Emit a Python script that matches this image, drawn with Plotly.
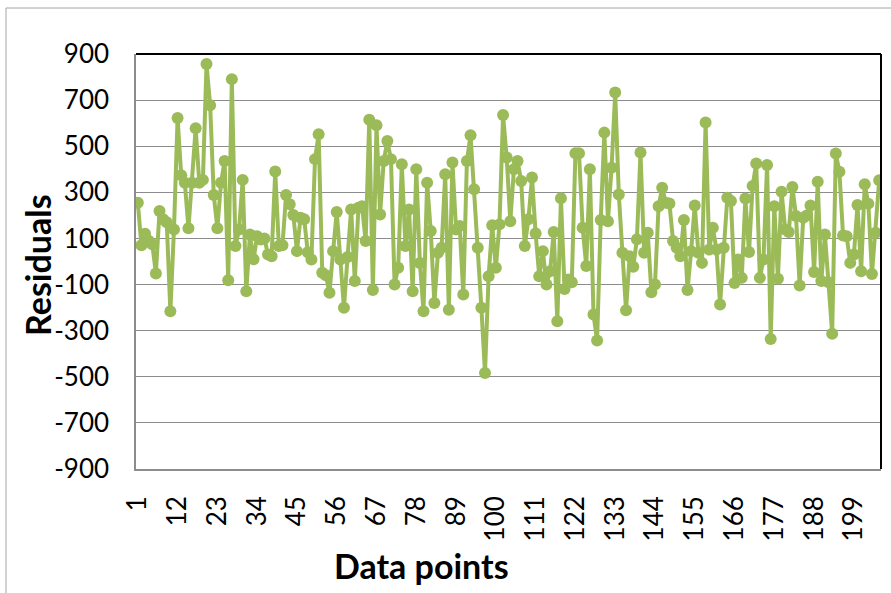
import plotly.graph_objects as go

residuals = [
    255, 70, 120, 90, 75, -52, 219, 183, 170, -216,
    139, 622, 374, 342, 144, 342, 578, 342, 354, 857,
    678, 288, 144, 342, 436, -81, 791, 67, 139, 354,
    -129, 117, 10, 110, 95, 100, 30, 23, 390, 67,
    70, 288, 248, 202, 45, 190, 183, 40, 9, 444,
    552, -49, -60, -136, 45, 215, 9, -201, 20, 226,
    -85, 233, 240, 89, 615, -124, 591, 204, 436, 523,
    444, -100, -27, 422, 67, 226, -129, 400, -7, -216,
    342, 132, -180, 38, 60, 378, -209, 429, 139, 154,
    -143, 436, 548, 313, 60, -201, -484, -64, 157, -27,
    161, 635, 451, 175, 400, 436, 349, 67, 183, 364,
    122, -64, 45, -100, -42, 128, -259, 274, -119, -78,
    -90, 470, 470, 146, -20, 400, -230, -343, 180, 559,
    175, 407, 733, 291, 38, -211, 23, -23, 96, 473,
    38, 125, -133, -100, 240, 320, 255, 252, 89, 60,
    23, 180, -124, 45, 243, 38, -6, 603, 52, 146,
    52, -187, 60, 277, 262, -93, 9, -71, 273, 41,
    328, 425, -71, 9, 419, -336, 240, -75, 303, 139,
    128, 323, 197, -104, 190, 200, 243, -46, 346, -85,
    117, -90, -313, 468, 389, 113, 110, -6, 30, 245,
    -42, 335, 251, -54, 125, 352,
]
points = list(range(1, len(residuals) + 1))
x_tick_vals = list(range(1, len(residuals) + 1, 11))
x_tick_text = [str(v) for v in x_tick_vals]
y_tick_vals = list(range(-900, 901, 200))
y_tick_text = [str(v) for v in y_tick_vals]

GREEN = "#9BBB59"
FONT = "Lato, 'Open Sans', sans-serif"

W, H = 891, 593
L, R, T, B = 136, 881, 54, 469
pw, ph = R - L, B - T

def px(xp):
    return (xp - L) / pw

def py(yp):
    return (B - yp) / ph

fig = go.Figure()
fig.add_trace(go.Scatter(
    x=points, y=residuals, mode="lines+markers",
    line=dict(color=GREEN, width=4),
    marker=dict(color=GREEN, size=12, line=dict(width=0)),
    showlegend=False,
))

fig.update_layout(
    width=W, height=H,
    margin=dict(l=L, r=W - R, t=T, b=H - B),
    paper_bgcolor="white", plot_bgcolor="white",
    font=dict(family=FONT, color="black", size=26),
    xaxis=dict(
        range=[0.5, len(residuals) + 0.5], automargin=False,
        tickmode="array", tickvals=x_tick_vals, ticktext=x_tick_text,
        tickangle=-90, showgrid=False, zeroline=False,
        showline=True, linecolor="#8c8c8c", linewidth=1.5,
        ticks="", ticklabelstandoff=15,
        tickfont=dict(size=26, family=FONT),
    ),
    yaxis=dict(
        range=[-900, 900], automargin=False,
        tickmode="array", tickvals=y_tick_vals, ticktext=y_tick_text,
        showgrid=True, gridcolor="#8c8c8c", gridwidth=1,
        zeroline=False, showline=True, linecolor="#8c8c8c", linewidth=1.5,
        ticks="", ticklabelstandoff=20,
        tickfont=dict(size=26, family=FONT),
    ),
    shapes=[
        dict(type="line", xref="paper", yref="paper", x0=0, x1=1, y0=1, y1=1,
             line=dict(color="black", width=2)),
        dict(type="line", xref="paper", yref="paper", x0=1, x1=1, y0=0, y1=1,
             line=dict(color="black", width=2)),
        dict(type="line", xref="paper", yref="paper", x0=px(6), x1=px(891), y0=py(8), y1=py(8),
             line=dict(color="#a6a6a6", width=1)),
        dict(type="line", xref="paper", yref="paper", x0=px(6), x1=px(6), y0=py(8), y1=py(593),
             line=dict(color="#a6a6a6", width=1)),
    ],
    annotations=[
        dict(text="<b>Data points</b>", xref="paper", yref="paper",
             x=px(421), y=py(565), showarrow=False,
             font=dict(size=34, family=FONT, color="black"),
             xanchor="center", yanchor="middle"),
        dict(text="<b>Residuals</b>", xref="paper", yref="paper",
             x=px(37), y=py(265), showarrow=False, textangle=-90,
             font=dict(size=34, family=FONT, color="black"),
             xanchor="center", yanchor="middle"),
    ],
)

fig.write_html("out.html", config={"displayModeBar": False},
               post_script="document.body.style.margin='0';")
